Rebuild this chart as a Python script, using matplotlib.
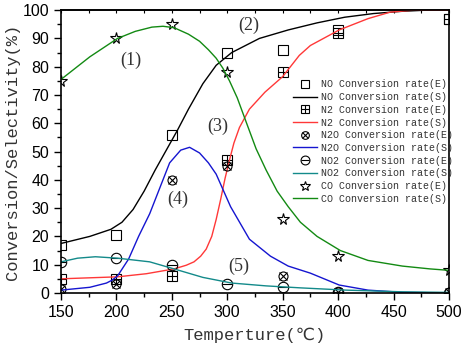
import matplotlib
matplotlib.use("Agg")
import matplotlib.pyplot as plt
from matplotlib.ticker import MultipleLocator
from matplotlib.legend_handler import HandlerTuple

# Experimental points (E)
temp_e = [150, 200, 250, 300, 350, 400, 500]
no_e = [17, 20.5, 56, 85, 86, 93, 97]
n2_e = [5, 5, 6, 47, 78, 92, 97]
n2o_e = [1.5, 3, 40, 45, 6, 0.5, 0.5]
no2_e = [11, 12.5, 10, 3, 2, 0.5, 0]
co_e = [75, 90, 95, 78, 26, 13, 8]

# Simulated curves (S)
no_s_t = [150, 176, 195, 205, 215, 225, 235, 245, 255, 265, 278, 290, 304, 329, 355, 381, 406, 432, 458, 480, 500]
no_s = [17.5, 20, 22.5, 25, 29.5, 36, 43.5, 50.5, 57.5, 65, 74, 80.5, 85, 90, 93, 95.5, 97.5, 98.8, 99.6, 100, 100]

n2_s_t = [150, 201, 227, 252, 263, 270, 276, 281, 286, 290, 294, 298, 302, 306, 311, 320, 334, 350, 365, 375, 401, 427, 447, 468, 500]
n2_s = [5, 5.7, 6.8, 8.5, 9.8, 11, 13, 15.5, 20, 26, 33, 40.5, 47, 53, 58.5, 65, 71, 76.5, 84, 87.5, 93, 97, 99.3, 100, 100]

n2o_s_t = [150, 176, 191, 196, 201, 211, 220, 230, 239, 248, 258, 266, 275, 283, 290, 303, 320, 339, 355, 375, 401, 427, 458, 500]
n2o_s = [1, 2, 3.5, 4.5, 6, 12, 20, 28, 37, 46, 50.5, 51.5, 49.5, 46, 42, 30.5, 19, 13, 9.5, 7, 2.8, 1, 0.2, 0]

no2_s_t = [150, 165, 181, 201, 230, 252, 278, 304, 335, 366, 407, 458, 500]
no2_s = [11, 12.3, 12.8, 12.3, 11, 8.5, 5.5, 3.5, 2.5, 1.8, 1, 0.4, 0.2]

co_s_t = [150, 176, 201, 217, 232, 242, 252, 265, 275, 283, 290, 296, 302, 309, 317, 326, 335, 345, 355, 366, 381, 402, 427, 458, 483, 500]
co_s = [75.5, 83.5, 90, 92.5, 94, 94.3, 93.8, 91.5, 89, 86, 83, 79.5, 75, 69, 60.5, 51, 43.5, 36, 30.5, 25, 20, 15, 11.5, 9.5, 8.5, 8]

xticks = [150, 200, 250, 300, 350, 400, 450, 500]
yticks = [0, 10, 20, 30, 40, 50, 60, 70, 80, 90, 100]
annotations = [("(1)", 213, 82.3), ("(2)", 319.5, 94.7), ("(3)", 291.6, 58.8),
               ("(4)", 255, 33.1), ("(5)", 310.5, 9.3)]

mono = ["Liberation Mono", "DejaVu Sans Mono", "DejaVu Sans"]

fig = plt.figure(figsize=(4.64, 3.5), dpi=100)
ax = fig.add_axes([0.1315, 0.163, 0.836, 0.808])

ms = 6.5
mew = 0.8
ekw = dict(linestyle="none", markeredgecolor="black", markerfacecolor="none", markeredgewidth=mew)

h_no_e, = ax.plot(temp_e, no_e, marker="s", markersize=ms, **ekw)
h_no_s, = ax.plot(no_s_t, no_s, color="black", lw=1.0)
h_n2_e1, = ax.plot(temp_e, n2_e, marker="s", markersize=ms, **ekw)
h_n2_e2, = ax.plot(temp_e, n2_e, marker="+", markersize=ms, **ekw)
h_n2_s, = ax.plot(n2_s_t, n2_s, color="#ff3838", lw=1.0)
h_n2o_e1, = ax.plot(temp_e, n2o_e, marker="o", markersize=ms, **ekw)
h_n2o_e2, = ax.plot(temp_e, n2o_e, marker="x", markersize=ms * 0.8, **ekw)
h_n2o_s, = ax.plot(n2o_s_t, n2o_s, color="#1515d0", lw=1.0)
h_no2_e1, = ax.plot(temp_e, no2_e, marker="o", markersize=ms + 1, **ekw)
h_no2_e2, = ax.plot(temp_e, no2_e, marker="_", markersize=ms + 1, **ekw)
h_no2_s, = ax.plot(no2_s_t, no2_s, color="#138a8a", lw=1.0)
h_co_e, = ax.plot(temp_e, co_e, marker="*", markersize=ms + 2, **ekw)
h_co_s, = ax.plot(co_s_t, co_s, color="#138a13", lw=1.0)

ax.set_xlim(150, 500)
ax.set_ylim(0, 100)
ax.set_xticks(xticks)
ax.set_yticks(yticks)
ax.xaxis.set_minor_locator(MultipleLocator(25))
ax.yaxis.set_minor_locator(MultipleLocator(5))
ax.tick_params(which="major", direction="out", length=5, width=1, labelsize=11.5, top=False, right=False)
ax.tick_params(which="minor", direction="out", length=3, width=1, top=False, right=False)
for lab in ax.get_xticklabels() + ax.get_yticklabels():
    lab.set_fontfamily(["Liberation Sans", "DejaVu Sans"])
for sp in ax.spines.values():
    sp.set_linewidth(1.2)

top = ax.secondary_xaxis("top")
top.set_xticks(xticks)
top.xaxis.set_minor_locator(MultipleLocator(25))
top.tick_params(which="both", direction="in", length=2, width=0.8, labeltop=False)
top.spines["top"].set_linewidth(1.2)

ax.set_ylabel("Conversion/Selectivity(%)", fontsize=12.3, family=mono, color="#333333", labelpad=2)
ax.set_xlabel("Temperture(\u2103)", fontsize=12.3, family=mono, color="#333333", labelpad=6)

for txt, x, y in annotations:
    ax.text(x, y, txt, fontsize=13, family=["Liberation Serif", "DejaVu Serif"],
            ha="center", va="center", color="#333333")

handles = [h_no_e, h_no_s, (h_n2_e1, h_n2_e2), h_n2_s, (h_n2o_e1, h_n2o_e2), h_n2o_s,
           (h_no2_e1, h_no2_e2), h_no2_s, h_co_e, h_co_s]
labels = ["NO Conversion rate(E)", "NO Conversion rate(S)", "N2 Conversion rate(E)",
          "N2 Conversion rate(S)", "N2O Conversion rate(E)", "N2O Conversion rate(S)",
          "NO2 Conversion rate(E)", "NO2 Conversion rate(S)", "CO Conversion rate(E)",
          "CO Conversion rate(S)"]
leg = ax.legend(handles, labels, loc="upper left", bbox_to_anchor=(0.598, 0.755),
                frameon=False, prop={"family": mono, "size": 7.2},
                handler_map={tuple: HandlerTuple(ndivide=1)},
                handlelength=2.4, handletextpad=0.4, labelspacing=0.27, borderpad=0,
                borderaxespad=0, markerscale=0.85)
for t in leg.get_texts():
    t.set_color("#333333")

fig.savefig("out.png", dpi=100)
